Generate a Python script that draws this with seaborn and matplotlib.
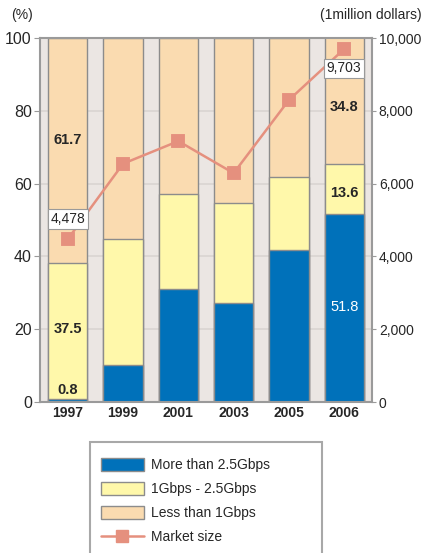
import matplotlib
matplotlib.use('Agg')
import matplotlib.pyplot as plt
from matplotlib.ticker import FuncFormatter
from matplotlib.patches import Patch, Rectangle
from matplotlib.lines import Line2D
import pandas as pd
import numpy as np
import seaborn as sns

# Data
years = ['1997', '1999', '2001', '2003', '2005', '2006']
above_25 = [0.8, 10.3, 31.1, 27.3, 41.7, 51.8]
between_1_25 = [37.5, 34.6, 26.2, 27.4, 20.1, 13.6]
below_1 = [61.7, 55.1, 42.7, 45.3, 38.2, 34.8]
market_size = [4478, 6550, 7170, 6290, 8300, 9703]
labels = ['More than 2.5Gbps', '1Gbps - 2.5Gbps', 'Less than 1Gbps', 'Market size']

df = pd.DataFrame({'year': years, 'blue': above_25, 'yellow': between_1_25,
                   'orange': below_1, 'market': market_size})
df['cum_blue'] = df['blue']
df['cum_yellow'] = df['blue'] + df['yellow']
df['cum_orange'] = df['cum_yellow'] + df['orange']

c_blue = '#0071BA'
c_yellow = '#FFF8AA'
c_orange = '#FADBB0'
c_line = '#E5907E'
c_edge = '#8C8C8C'

sns.set_style('white')
plt.rcParams['font.family'] = ['Liberation Sans', 'DejaVu Sans']

fig = plt.figure(figsize=(4.23, 5.53), dpi=100)
ax = fig.add_axes([0.095, 0.273, 0.784, 0.658])
ax.set_facecolor('#EBE6E3')
ax.set_axisbelow(True)
ax.yaxis.grid(True, color='#D9D4D1', linewidth=1.2)

# stacked bars: draw cumulative totals from top down
for col, color in [('cum_orange', c_orange), ('cum_yellow', c_yellow), ('cum_blue', c_blue)]:
    sns.barplot(data=df, x='year', y=col, color=color, width=0.71,
                edgecolor=c_edge, linewidth=1.0, ax=ax, saturation=1)

ax.set_ylim(0, 100)
ax.set_yticks([0, 20, 40, 60, 80, 100])
ax.set_xlim(-0.5, 5.5)
ax.set_xlabel('')
ax.set_ylabel('')
for s in ax.spines.values():
    s.set_color('#9A9A9A')
    s.set_linewidth(1.5)
ax.tick_params(axis='y', labelsize=11.5, length=4, color='#9A9A9A', pad=2)
ax.tick_params(axis='x', labelsize=10, length=0, pad=3)
for t in ax.get_xticklabels():
    t.set_fontweight('bold')

# segment labels
ax.text(0, 72, '61.7', ha='center', va='center', fontsize=10.5, fontweight='bold')
ax.text(0, 20, '37.5', ha='center', va='center', fontsize=10.5, fontweight='bold')
ax.text(0, 3.2, '0.8', ha='center', va='center', fontsize=10.5, fontweight='bold')
ax.text(5, 81, '34.8', ha='center', va='center', fontsize=10.5, fontweight='bold')
ax.text(5, 57.5, '13.6', ha='center', va='center', fontsize=10.5, fontweight='bold')
ax.text(5, 26.2, '51.8', ha='center', va='center', fontsize=10.5, color='white')

# market size line on right axis
ax2 = ax.twinx()
sns.pointplot(data=df, x='year', y='market', color=c_line, markers='s',
              markersize=9, linewidth=1.8, ax=ax2, zorder=5)
ax2.set_ylim(0, 10000)
ax2.set_xlim(-0.5, 5.5)
ax2.set_yticks([0, 2000, 4000, 6000, 8000, 10000])
ax2.yaxis.set_major_formatter(FuncFormatter(lambda v, p: f'{int(v):,}'))
ax2.tick_params(axis='y', labelsize=10, length=3, color='#9A9A9A', pad=2)
ax2.set_ylabel('')
ax2.set_xlabel('')
for s in ax2.spines.values():
    s.set_visible(False)

box = dict(boxstyle='square,pad=0.2', facecolor='white', edgecolor='#9A9A9A', linewidth=0.8)
ax2.text(0, 5030, '4,478', ha='center', va='center', fontsize=10, bbox=box, zorder=6)
ax2.text(5, 9170, '9,703', ha='center', va='center', fontsize=10, bbox=box, zorder=6)

fig.text(0.026, 0.972, '(%)', ha='left', va='center', fontsize=10)
fig.text(0.997, 0.972, '(1million dollars)', ha='right', va='center', fontsize=10)

# legend frame runs off the bottom of the figure
fig.patches.append(Rectangle((0.213, -0.05), 0.548, 0.25, transform=fig.transFigure,
                             facecolor='white', edgecolor='#A8A8A8', linewidth=1.5))
handles = [Patch(facecolor=c_blue, edgecolor=c_edge),
           Patch(facecolor=c_yellow, edgecolor=c_edge),
           Patch(facecolor=c_orange, edgecolor=c_edge),
           Line2D([0], [0], color=c_line, lw=1.8, marker='s', markersize=9)]
leg = fig.legend(handles, labels, loc='upper left', bbox_to_anchor=(0.228, 0.179),
                 frameon=False, fontsize=10, handlelength=3.1, handleheight=1.0,
                 borderpad=0.3, labelspacing=0.72, handletextpad=0.5,
                 borderaxespad=0)

fig.savefig('out.png', dpi=100)
